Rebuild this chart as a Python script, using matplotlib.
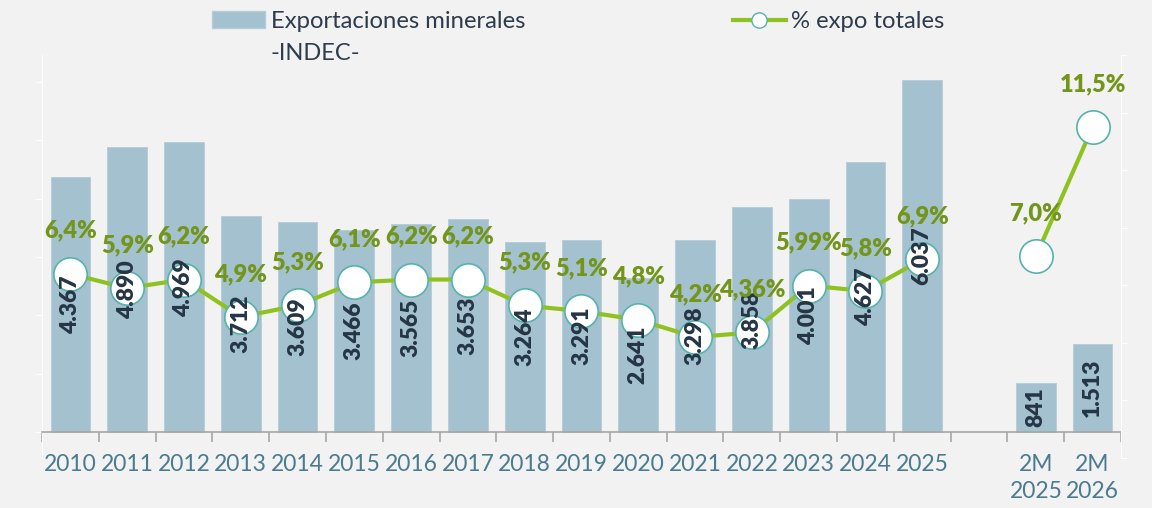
import matplotlib
matplotlib.use('Agg')
import matplotlib.pyplot as plt
from matplotlib.lines import Line2D
from matplotlib.patches import Patch
import numpy as np

# datos: exportaciones mineras (INDEC) y % sobre expo totales
categorias = ['2010', '2011', '2012', '2013', '2014', '2015', '2016', '2017',
              '2018', '2019', '2020', '2021', '2022', '2023', '2024', '2025',
              '', '2M\n2025', '2M\n2026']
expo_minerales = [4367, 4890, 4969, 3712, 3609, 3466, 3565, 3653, 3264, 3291,
                  2641, 3298, 3858, 4001, 4627, 6037, np.nan, 841, 1513]
pct_totales = [6.4, 5.9, 6.2, 4.9, 5.3, 6.1, 6.2, 6.2, 5.3, 5.1,
               4.8, 4.2, 4.36, 5.99, 5.8, 6.9, np.nan, 7.0, 11.5]
pct_labels = ['6,4%', '5,9%', '6,2%', '4,9%', '5,3%', '6,1%', '6,2%', '6,2%',
              '5,3%', '5,1%', '4,8%', '4,2%', '4,36%', '5,99%', '5,8%', '6,9%',
              '', '7,0%', '11,5%']

plt.rcParams['font.family'] = ['Lato', 'DejaVu Sans']

fondo = '#f2f2f2'
c_barra = '#a3c1ce'
c_linea = '#8fc220'
c_borde = '#55b3aa'
c_pct = '#72951a'
c_num = '#253545'
c_tick = '#4a7b8e'
c_leg = '#2e3c4c'

W, H = 1152, 508
fig = plt.figure(figsize=(W / 100, H / 100), dpi=100, facecolor=fondo)
ax = fig.add_axes([42 / W, 50 / H, 1079 / W, 403 / H])
ax.set_facecolor(fondo)
ax2 = ax.twinx()

x = np.arange(len(categorias))

# barras
ax.bar(x, expo_minerales, width=0.7, color=c_barra, edgecolor='#b4cdd8', linewidth=0.6, zorder=2)
ax.set_xlim(-0.5, len(categorias) - 0.5)
ax.set_ylim(-446, 6466)

# linea % (el nan corta la linea)
ax2.plot(x, pct_totales, color=c_linea, lw=3, marker='o', ms=24,
         mfc='white', mec=c_borde, mew=1.2, zorder=3)
ax2.set_ylim(0, 14)

# etiquetas de las barras (encima de los marcadores)
for i, v in enumerate(expo_minerales):
    if np.isnan(v):
        continue
    txt = f'{int(v):,}'.replace(',', '.')
    ax2.text(i, v / 2, txt, transform=ax.transData, rotation=90, ha='center', va='center',
             fontsize=16.5, fontweight='heavy', color=c_num, zorder=6)

# etiquetas de porcentaje
for i, p in enumerate(pct_totales):
    if np.isnan(p):
        continue
    ax2.annotate(pct_labels[i], (i, p), xytext=(0, 31), textcoords='offset points',
                 ha='center', va='center', fontsize=17, fontweight='heavy', color=c_pct, zorder=7)

# ejes
ax.spines['top'].set_visible(False)
ax2.spines['top'].set_visible(False)
ax.spines['bottom'].set_position(('data', 0))
ax.spines['bottom'].set_color('#a6a6a6')
ax.spines['bottom'].set_linewidth(1.2)
ax2.spines['bottom'].set_visible(False)
ax.spines['left'].set_color('white')
ax2.spines['left'].set_visible(False)
ax2.spines['right'].set_color('white')
ax.spines['right'].set_visible(False)

ax.set_xticks(x)
ax.set_xticklabels(categorias)
ax.set_xticks(np.arange(-0.5, len(categorias)), minor=True)
ax.tick_params(axis='x', which='major', length=0, pad=16, labelsize=16.5, labelcolor=c_tick)
ax.tick_params(axis='x', which='minor', length=7, width=1.2, color='#a6a6a6', direction='out')
for lbl in ax.get_xticklabels():
    lbl.set_linespacing(1.35)

ax.set_yticks(np.arange(0, 7000, 1000))
ax.tick_params(axis='y', length=4, color='white', labelleft=False)
ax2.set_yticks(np.arange(0, 15, 2))
ax2.tick_params(axis='y', length=4, color='white', labelright=False)

# leyendas
leg1 = fig.legend(handles=[Patch(facecolor=c_barra, edgecolor='#b4cdd8')],
                  labels=['Exportaciones minerales'], loc='upper left',
                  bbox_to_anchor=(212 / W, 1 - 11 / H), frameon=False, borderpad=0,
                  borderaxespad=0, handlelength=2.2, handleheight=0.7, handletextpad=0.25,
                  fontsize=17.2, labelcolor=c_leg)
fig.text(270 / W, 1 - 54 / H, '-INDEC-', ha='left', va='center', fontsize=17, color=c_leg)

linea_leg = Line2D([], [], color=c_linea, lw=3, marker='o', ms=11, mfc='white', mec=c_borde, mew=1)
leg2 = fig.legend(handles=[linea_leg], labels=['% expo totales'], loc='upper left',
                  bbox_to_anchor=(733 / W, 1 - 11 / H), frameon=False, borderpad=0,
                  borderaxespad=0, handlelength=2.2, handletextpad=0.22,
                  fontsize=17.2, labelcolor=c_leg)

fig.savefig('out.png', dpi=100, facecolor=fondo)
